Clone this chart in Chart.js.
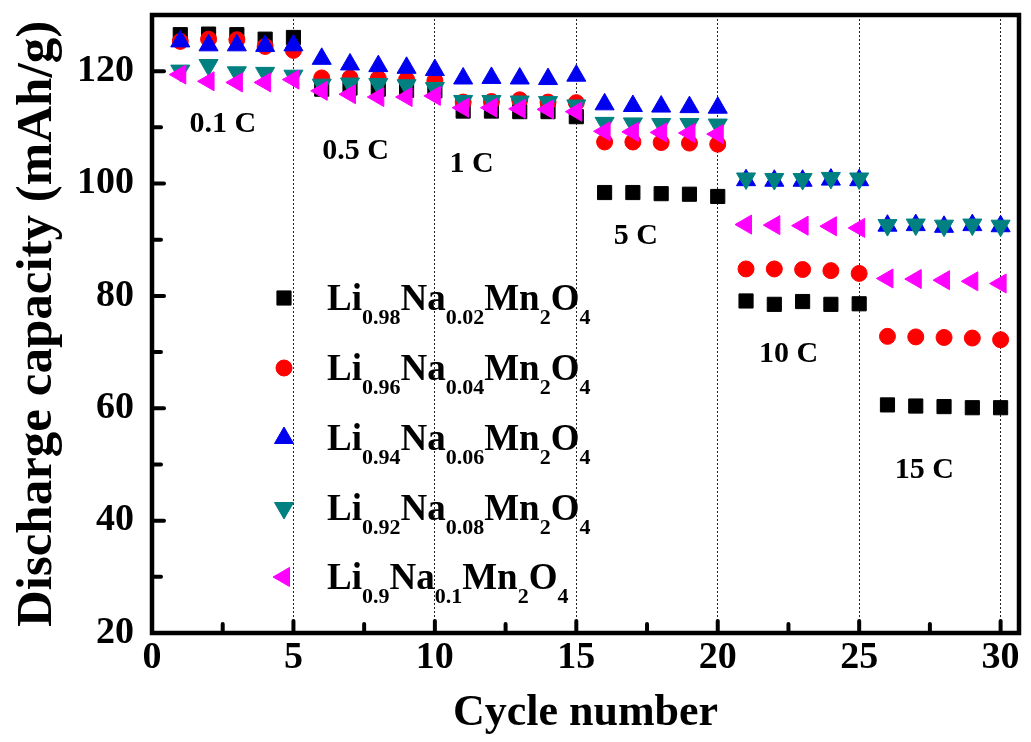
<!DOCTYPE html>
<html>
<head>
<meta charset="utf-8">
<script src="https://cdn.jsdelivr.net/npm/chart.js@4"></script>
<style>
  body { margin: 0; background: #fff; }
  #wrap { width: 1031px; height: 742px; }
</style>
</head>
<body>
<div id="wrap"><canvas id="rate-chart" width="1031" height="742"></canvas></div>
<script>
const cycles = [1, 2, 3, 4, 5, 6, 7, 8, 9, 10, 11, 12, 13, 14, 15,
                16, 17, 18, 19, 20, 21, 22, 23, 24, 25, 26, 27, 28, 29, 30];

const na002 = [126.5, 126.6, 126.5, 125.7, 126.0, 116.8, 117.0, 116.8, 116.6, 116.5,
               112.9, 112.9, 112.8, 112.8, 111.9, 98.4, 98.4, 98.2, 98.1, 97.7,
               79.1, 78.5, 79.0, 78.5, 78.6, 60.6, 60.4, 60.3, 60.1, 60.1];
const na004 = [125.3, 125.7, 125.6, 124.4, 123.7, 118.8, 118.8, 118.7, 118.5, 118.3,
               114.5, 114.6, 114.9, 114.5, 114.4, 107.4, 107.4, 107.3, 107.2, 107.0,
               84.8, 84.8, 84.7, 84.5, 84.0, 72.8, 72.7, 72.6, 72.5, 72.2];
const na006 = [125.3, 124.6, 124.6, 124.5, 124.6, 122.2, 121.2, 120.9, 120.6, 120.2,
               118.7, 118.8, 118.7, 118.6, 119.2, 114.1, 113.8, 113.7, 113.6, 113.5,
               100.6, 100.5, 100.5, 100.7, 100.6, 92.5, 92.6, 92.3, 92.6, 92.4];
const na008 = [120.1, 121.1, 119.8, 119.7, 119.2, 117.6, 117.8, 117.7, 117.5, 117.0,
               114.7, 114.7, 114.6, 114.5, 113.9, 110.8, 110.7, 110.6, 110.6, 110.5,
               100.9, 100.8, 100.8, 101.0, 100.9, 92.6, 92.7, 92.5, 92.7, 92.5];
const na010 = [119.4, 118.2, 118.0, 118.0, 118.5, 116.5, 115.9, 115.4, 115.4, 115.6,
               113.5, 113.5, 113.3, 113.2, 112.8, 109.3, 109.2, 109.1, 109.0, 108.8,
               92.7, 92.6, 92.5, 92.4, 92.1, 83.1, 83.0, 82.8, 82.6, 82.2];

const seriesNames = ['Li0.98Na0.02Mn2O4', 'Li0.96Na0.04Mn2O4', 'Li0.94Na0.06Mn2O4',
                     'Li0.92Na0.08Mn2O4', 'Li0.9Na0.1Mn2O4'];
const seriesValues = [na002, na004, na006, na008, na010];

// rate labels: [text, cycle, capacity]
const rateLabels = [['0.1 C', 2.5, 110.5], ['0.5 C', 7.2, 105.7], ['1 C', 11.3, 103.4],
                    ['5 C', 17.1, 90.6], ['10 C', 22.5, 69.7], ['15 C', 27.3, 49.0]];

const xTicks = [0, 5, 10, 15, 20, 25, 30];
const yTicks = [20, 40, 60, 80, 100, 120];

const styles = [
    { color: '#000000', pointStyle: 'rect', radius: 10, rotation: 0 },
    { color: '#ff0000', pointStyle: 'circle', radius: 8, rotation: 0 },
    { color: '#0000f0', pointStyle: 'triangle', radius: 11, rotation: 0 },
    { color: '#008080', pointStyle: 'triangle', radius: 11, rotation: 180 },
    { color: '#ff00ff', pointStyle: 'triangle', radius: 11, rotation: -90 }
];

const FONT = "'Liberation Serif', 'Times New Roman', serif";

// frame, inward ticks, rate labels and the legend with subscripts
const decor = {
    id: 'decor',
    afterDraw(chart) {
        const ctx = chart.ctx;
        const area = chart.chartArea;
        const x = chart.scales.x, y = chart.scales.y;
        ctx.save();
        ctx.strokeStyle = '#000';
        ctx.lineCap = 'round';

        // minor + major ticks pointing in
        ctx.lineWidth = 4;
        for (let v = 2.5; v < 30.1; v += 2.5) {
            const px = x.getPixelForValue(v);
            const len = (v % 5 === 0) ? 12 : 9;
            ctx.beginPath();
            ctx.moveTo(px, area.bottom);
            ctx.lineTo(px, area.bottom - len);
            ctx.stroke();
        }
        for (let v = 30; v < 130; v += 10) {
            const py = y.getPixelForValue(v);
            const len = (v % 20 === 0) ? 12 : 9;
            ctx.beginPath();
            ctx.moveTo(area.left, py);
            ctx.lineTo(area.left + len, py);
            ctx.stroke();
        }

        // frame
        ctx.lineCap = 'butt';
        ctx.lineWidth = 4.5;
        ctx.strokeRect(area.left, area.top, area.right - area.left, area.bottom - area.top);

        // rate labels
        ctx.fillStyle = '#000';
        ctx.font = 'bold 30px ' + FONT;
        ctx.textAlign = 'center';
        ctx.textBaseline = 'middle';
        rateLabels.forEach(([txt, cx, cy]) => {
            ctx.fillText(txt, x.getPixelForValue(cx), y.getPixelForValue(cy));
        });

        // legend
        const lx = 284, tx = 327;
        const rows = [298, 368, 438, 508, 577];
        ctx.textAlign = 'left';
        ctx.textBaseline = 'alphabetic';
        seriesNames.forEach((name, i) => {
            const s = styles[i];
            ctx.fillStyle = s.color;
            ctx.strokeStyle = s.color;
            ctx.lineWidth = 1;
            Chart.helpers.drawPoint(ctx, {
                pointStyle: s.pointStyle, radius: s.radius, rotation: s.rotation, borderWidth: 1
            }, lx, rows[i]);

            ctx.fillStyle = '#000';
            let cx = tx;
            const base = rows[i] + 12;
            const parts = name.match(/[A-Z][a-z]?|[\d.]+/g);
            parts.forEach(p => {
                const sub = /[\d.]/.test(p[0]);
                ctx.font = sub ? 'bold 22px ' + FONT : 'bold 37px ' + FONT;
                ctx.fillText(p, cx, sub ? base + 14 : base);
                cx += ctx.measureText(p).width;
            });
        });
        ctx.restore();
    }
};

new Chart(document.querySelector('#rate-chart').getContext('2d'), {
    type: 'scatter',
    data: {
        datasets: seriesNames.map((name, i) => ({
            label: name,
            data: cycles.map((c, k) => ({ x: c, y: seriesValues[i][k] })),
            backgroundColor: styles[i].color,
            borderColor: styles[i].color,
            borderWidth: 1,
            pointStyle: styles[i].pointStyle,
            pointRadius: styles[i].radius,
            pointRotation: styles[i].rotation,
            order: 5 - i
        }))
    },
    options: {
        responsive: false,
        animation: false,
        events: [],
        layout: { padding: { top: 15, right: 11, left: 0, bottom: 0 } },
        plugins: { legend: { display: false }, tooltip: { enabled: false } },
        scales: {
            x: {
                type: 'linear',
                min: 0,
                max: 30.65,
                afterFit: s => { s.height = 109; s.paddingLeft = 0; s.paddingRight = 0; },
                afterBuildTicks: s => { s.ticks = xTicks.map(v => ({ value: v })); },
                ticks: { color: '#000', padding: 2, font: { family: FONT, size: 38, weight: 'bold' } },
                grid: { color: '#222', lineWidth: 1, drawTicks: false },
                border: { display: false, dash: [2, 2] },
                title: {
                    display: true,
                    text: 'Cycle number',
                    color: '#000',
                    font: { family: FONT, size: 44, weight: 'bold' },
                    padding: { bottom: 2 }
                }
            },
            y: {
                min: 20,
                max: 130,
                afterFit: s => { s.width = 152; s.paddingTop = 0; s.paddingBottom = 0; },
                afterBuildTicks: s => { s.ticks = yTicks.map(v => ({ value: v })); },
                ticks: { color: '#000', padding: 18, font: { family: FONT, size: 38, weight: 'bold' } },
                grid: { display: false, drawTicks: false },
                border: { display: false },
                title: {
                    display: true,
                    text: 'Discharge capacity (mAh/g)',
                    color: '#000',
                    font: { family: FONT, size: 51, weight: 'bold' },
                    padding: { top: 7 }
                }
            }
        }
    },
    plugins: [decor]
});
</script>
</body>
</html>
